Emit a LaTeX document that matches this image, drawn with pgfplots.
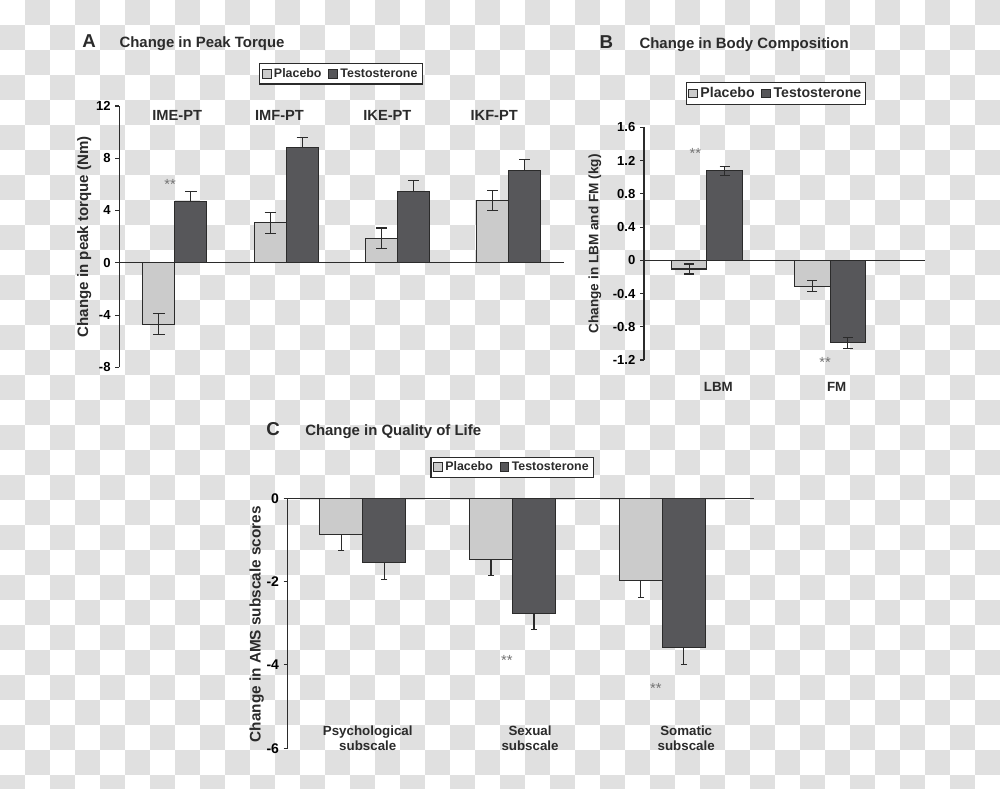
\documentclass[border=0pt]{standalone}
\usepackage{pgfplots}
\pgfplotsset{compat=1.18}
\usepackage{fontspec}
\setmainfont{Liberation Sans}
\definecolor{plac}{HTML}{CBCBCB}
\definecolor{test}{HTML}{57575A}
\definecolor{chk}{HTML}{E0E0E0}
\definecolor{ink}{HTML}{2B2B2B}
\newcommand{\fs}[1]{\fontsize{#1}{#1}\selectfont\bfseries}
\tikzset{starlbl/.style={font=\fontsize{11}{11}\selectfont, text=black!55}}
\pgfplotsset{
  panel/.style={
    scale only axis, clip=false, enlargelimits=false,
    axis y line*=left, axis x line*=middle,
    axis line style={-, ink, line width=0.9pt},
    xtick=\empty, ytick pos=left, tick align=outside, major tick length=3pt,
    tick style={ink, line width=0.8pt},
    /pgf/number format/assume math mode=true,
    yticklabel style={font=\fs{9.8}, text=black},
    ybar=0pt,
    legend columns=2,
    legend style={draw=ink, line width=0.8pt, fill=white, font=\fs{9.3}, text=ink,
      anchor=center, inner sep=1.5pt,
      /tikz/every even column/.append style={column sep=3pt}},
  },
  pbar/.style={fill=plac, draw=ink, line width=0.8pt,
    legend image code/.code={\draw[fill=plac, draw=ink, line width=0.6pt] (0pt,-3.3pt) rectangle (6.6pt,3.3pt);}},
  tbar/.style={fill=test, draw=ink, line width=0.8pt,
    legend image code/.code={\draw[fill=test, draw=ink, line width=0.6pt] (0pt,-3.3pt) rectangle (6.6pt,3.3pt);}},
}
\begin{document}
\begin{tikzpicture}
\useasboundingbox (0pt,0pt) rectangle (750pt,-591.75pt);
% checkered background
\begin{scope}[x=0.75pt,y=-0.75pt]
\clip (0,0) rectangle (1000,789);
\fill[white] (0,0) rectangle (1000,789);
\foreach \i in {0,...,39}{
  \foreach \j in {0,...,31}{
    \pgfmathtruncatemacro{\odd}{mod(\i+\j,2)}
    \ifnum\odd=1 \fill[chk] (\i*25,\j*25) rectangle ++(25,25);\fi
  }
}
\end{scope}

% ---------------- Panel A ----------------
\begin{axis}[panel, at={(89.475pt,-275.475pt)}, anchor=south west,
  width=333.75pt, height=196pt,
  xmin=0.5, xmax=4.5, ymin=-8, ymax=12, ytick={-8,-4,0,4,8,12},
  bar width=24pt,
  legend style={at={(0.498,1.123)}}]
\addplot[pbar, error bars/.cd, y dir=both, y explicit,
  error bar style={ink, line width=0.8pt},
  error mark options={rotate=90, mark size=4.25pt, ink, line width=0.8pt}]
  coordinates {(1,-4.7) +- (0,0.8) (2,3.05) +- (0,0.8) (3,1.86) +- (0,0.8) (4,4.75) +- (0,0.75)};
\addlegendentry{Placebo}
\addplot[tbar, error bars/.cd, y dir=plus, y explicit,
  error bar style={ink, line width=0.8pt},
  error mark options={rotate=90, mark size=4.25pt, ink, line width=0.8pt}]
  coordinates {(1,4.67) +- (0,0.8) (2,8.8) +- (0,0.8) (3,5.49) +- (0,0.8) (4,7.09) +- (0,0.8)};
\addlegendentry{Testosterone}
\node[font=\fs{11}, text=ink] at (axis cs:1.02,11.3) {IME-PT};
\node[font=\fs{11}, text=ink] at (axis cs:1.94,11.3) {IMF-PT};
\node[font=\fs{11}, text=ink] at (axis cs:2.91,11.3) {IKE-PT};
\node[font=\fs{11}, text=ink] at (axis cs:3.87,11.3) {IKF-PT};
\node[starlbl] at (axis cs:0.956,6.0) {**};
\end{axis}

% ---------------- Panel B ----------------
\begin{axis}[panel, at={(483pt,-270pt)}, anchor=south west,
  width=210.75pt, height=174.5pt,
  xmin=0.49, xmax=2.77, ymin=-1.2, ymax=1.6,
  ytick={-1.2,-0.8,-0.4,0,0.4,0.8,1.2,1.6},
  yticklabel style={/pgf/number format/.cd, fixed, precision=1},
  bar width=26.6pt,
  legend style={at={(0.470,1.146)}, font=\fs{10.6}}]
\addplot[pbar, error bars/.cd, y dir=both, y explicit,
  error bar style={ink, line width=0.8pt},
  error mark options={rotate=90, mark size=3.75pt, ink, line width=0.8pt}]
  coordinates {(1,-0.105) +- (0,0.06) (2,-0.31) +- (0,0.065)};
\addlegendentry{Placebo}
\addplot[tbar, error bars/.cd, y dir=both, y explicit,
  error bar style={ink, line width=0.8pt},
  error mark options={rotate=90, mark size=3.75pt, ink, line width=0.8pt}]
  coordinates {(1,1.075) +- (0,0.056) (2,-0.99) +- (0,0.066)};
\addlegendentry{Testosterone}
\node[font=\fs{10}, text=ink] at (axis cs:1.093,-1.525) {LBM};
\node[font=\fs{10}, text=ink] at (axis cs:2.053,-1.525) {FM};
\node[starlbl] at (axis cs:0.906,1.29) {**};
\node[starlbl] at (axis cs:1.960,-1.23) {**};
\end{axis}

% ---------------- Panel C ----------------
\begin{axis}[panel, at={(215.8pt,-561.2pt)}, anchor=south west,
  width=350pt, height=187.5pt,
  xmin=0.5, xmax=3.614, ymin=-6, ymax=0, ytick={-6,-4,-2,0},
  yticklabel style={font=\fs{10.5}},
  bar width=32.25pt,
  legend style={at={(0.481,1.124)}}]
\addplot[pbar, error bars/.cd, y dir=minus, y explicit,
  error bar style={ink, line width=0.8pt},
  error mark options={rotate=90, mark size=2.4pt, ink, line width=0.8pt}]
  coordinates {(1,-0.88) +- (0,0.38) (2,-1.48) +- (0,0.38) (3,-1.98) +- (0,0.4)};
\addlegendentry{Placebo}
\addplot[tbar, error bars/.cd, y dir=minus, y explicit,
  error bar style={ink, line width=0.8pt},
  error mark options={rotate=90, mark size=2.4pt, ink, line width=0.8pt}]
  coordinates {(1,-1.545) +- (0,0.4) (2,-2.76) +- (0,0.4) (3,-3.585) +- (0,0.4)};
\addlegendentry{Testosterone}
\node[font=\fs{10}, text=ink, align=center] at (axis cs:1.034,-5.757) {Psychological\\[1pt]subscale};
\node[font=\fs{10}, text=ink, align=center] at (axis cs:2.117,-5.757) {Sexual\\[1pt]subscale};
\node[font=\fs{10}, text=ink, align=center] at (axis cs:3.159,-5.757) {Somatic\\[1pt]subscale};
\node[starlbl] at (axis cs:1.962,-3.90) {**};
\node[starlbl] at (axis cs:2.957,-4.56) {**};
\end{axis}

% ---------------- titles and axis labels ----------------
\begin{scope}[x=0.75pt,y=-0.75pt]
\node[font=\fs{14}, text=ink, anchor=base] at (89,47.3) {A};
\node[font=\fs{11.2}, text=ink, anchor=base west, inner sep=0pt] at (119.3,47.3) {Change in Peak Torque};
\node[font=\fs{14}, text=ink, anchor=base] at (606.3,48.3) {B};
\node[font=\fs{11.2}, text=ink, anchor=base west, inner sep=0pt] at (639.3,48.3) {Change in Body Composition};
\node[font=\fs{14}, text=ink, anchor=base] at (273,435.7) {C};
\node[font=\fs{11.2}, text=ink, anchor=base west, inner sep=0pt] at (305,435.7) {Change in Quality of Life};
\node[font=\fs{11.3}, text=ink, rotate=90, inner sep=0pt] at (84.2,236.7) {Change in peak torque (Nm)};
\node[font=\fs{10.2}, text=ink, rotate=90, inner sep=0pt] at (595,243.8) {Change in LBM and FM (kg)};
\node[font=\fs{11.5}, text=ink, rotate=90, inner sep=0pt] at (256.7,624.2) {Change in AMS subscale scores};
\end{scope}
\end{tikzpicture}
\end{document}
